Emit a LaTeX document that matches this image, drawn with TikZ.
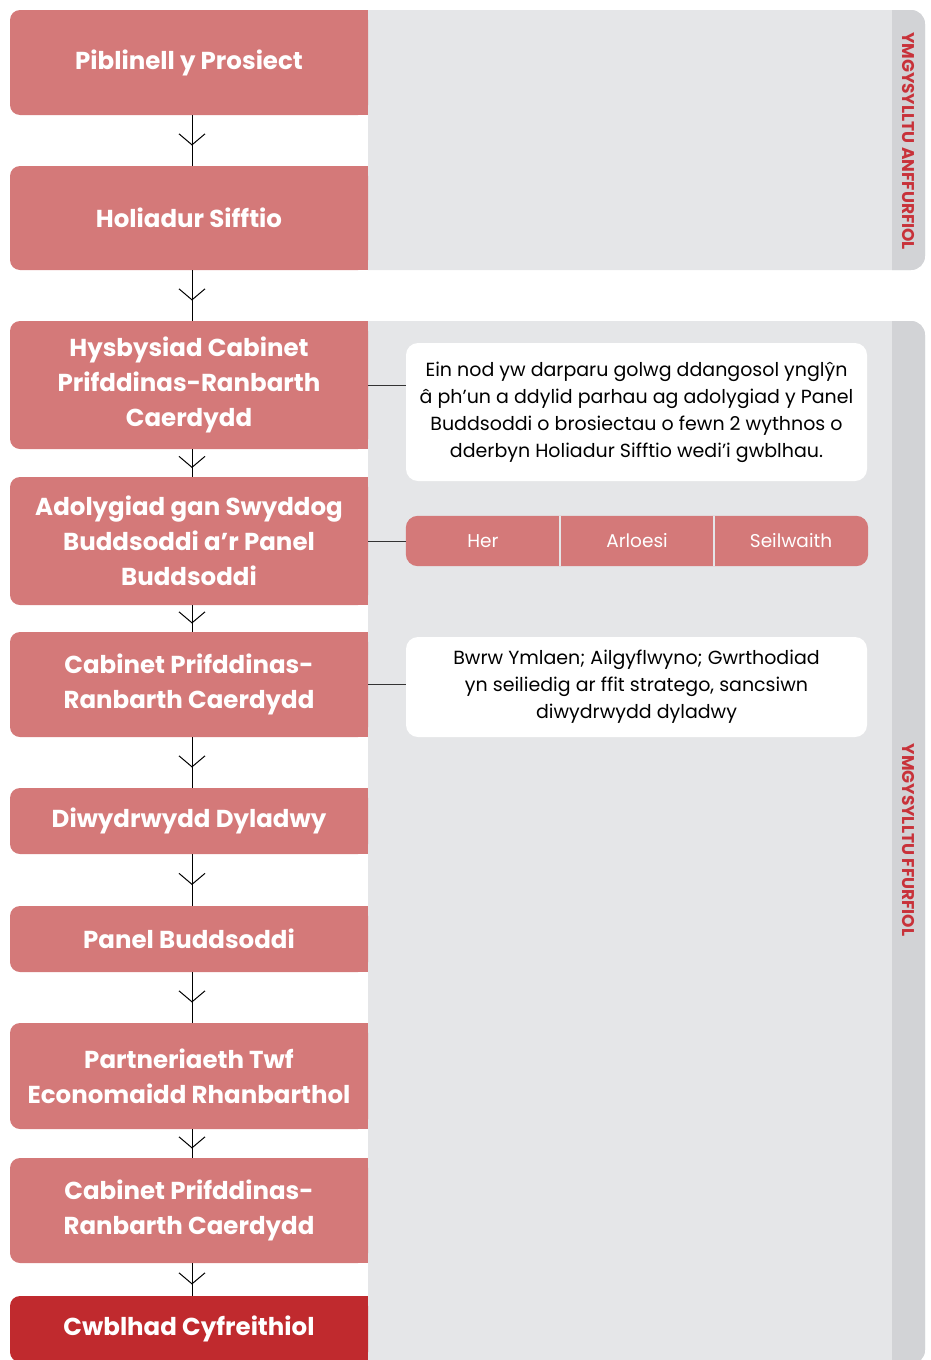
\documentclass[tikz,border=0pt]{standalone}
\usepackage{fontspec}
\setmainfont{Poppins}
\usetikzlibrary{arrows.meta,decorations.markings,backgrounds}

\definecolor{stepred}{RGB}{212,121,121}
\definecolor{finalred}{RGB}{192,42,46}
\definecolor{panelgray}{RGB}{229,230,232}
\definecolor{stripgray}{RGB}{210,211,214}
\definecolor{labelred}{RGB}{200,50,58}
\definecolor{linegray}{RGB}{51,51,51}

\tikzset{
  stepbox/.style={fill=stepred, rounded corners=10pt, minimum width=358pt, inner sep=0pt,
    text=white, align=center, font=\bfseries\fontsize{24.5}{35}\selectfont},
  notebox/.style={fill=white, rounded corners=12pt, minimum width=461pt, inner sep=0pt,
    align=center, font=\fontsize{19}{27}\selectfont},
  tagcell/.style={minimum width=154pt, minimum height=50pt, inner sep=0pt,
    text=white, font=\fontsize{18.5}{18.5}\selectfont},
  sidetext/.style={rotate=-90, text=labelred, font=\bfseries\fontsize{17}{17}\selectfont},
  flow/.style={line width=1pt, postaction={decorate},
    decoration={markings, mark=at position 0.5 with {\arrow[xshift=5pt]{Straight Barb[length=11pt,width=26pt]}}}},
  link/.style={line width=1pt, draw=linegray},
}

\begin{document}
\begin{tikzpicture}[x=1pt, y=1pt]
  \useasboundingbox (0,0) rectangle (930,-1360);

  % Les panneaux gris
  \begin{scope}[on background layer]
    \foreach \top/\bot in {10/270, 321/1364} {
      \begin{scope}
        \clip (368,-\top) rectangle (930,-\bot);
        \fill[panelgray, rounded corners=14pt] (340,-\top) rectangle (925,-\bot);
      \end{scope}
      \begin{scope}
        \clip (892,-\top) rectangle (930,-\bot);
        \fill[stripgray, rounded corners=14pt] (340,-\top) rectangle (925,-\bot);
      \end{scope}
    }
  \end{scope}

  \node (anffurfiol) [sidetext] at (908,-141) {YMGYSYLLTU ANFFURFIOL};
  \node (ffurfiol) [sidetext] at (908,-840) {YMGYSYLLTU FFURFIOL};

  % Les etapes
  \node (piblinell) [stepbox, minimum height=105pt] at (189,-62.5) {Piblinell y Prosiect};
  \node (holiadur) [stepbox, minimum height=104pt] at (189,-218) {Holiadur Sifftio};
  \node (hysbysiad) [stepbox, minimum height=128pt] at (189,-385) {Hysbysiad Cabinet\\Prifddinas-Ranbarth\\Caerdydd};
  \node (adolygiad) [stepbox, minimum height=128pt] at (189,-541) {Adolygiad gan Swyddog\\Buddsoddi a’r Panel\\Buddsoddi};
  \node (cabinet1) [stepbox, minimum height=105pt] at (189,-684.5) {Cabinet Prifddinas-\\Ranbarth Caerdydd};
  \node (diwydrwydd) [stepbox, minimum height=66pt] at (189,-821) {Diwydrwydd Dyladwy};
  \node (panel) [stepbox, minimum height=66pt] at (189,-939) {Panel Buddsoddi};
  \node (partneriaeth) [stepbox, minimum height=106pt] at (189,-1076) {Partneriaeth Twf\\Economaidd Rhanbarthol};
  \node (cabinet2) [stepbox, minimum height=105pt] at (189,-1210.5) {Cabinet Prifddinas-\\Ranbarth Caerdydd};
  \node (cwblhad) [stepbox, fill=finalred, minimum height=66pt] at (189,-1329) {Cwblhad Cyfreithiol};

  \foreach \n/\c in {piblinell/stepred, holiadur/stepred, hysbysiad/stepred, adolygiad/stepred,
      cabinet1/stepred, diwydrwydd/stepred, panel/stepred, partneriaeth/stepred,
      cabinet2/stepred, cwblhad/finalred}
    \fill[\c] ([xshift=-12pt]\n.north east) rectangle (\n.south east);

  % Les fleches
  \foreach \a/\b in {piblinell/holiadur, holiadur/hysbysiad, hysbysiad/adolygiad,
      adolygiad/cabinet1, cabinet1/diwydrwydd, diwydrwydd/panel, panel/partneriaeth,
      partneriaeth/cabinet2, cabinet2/cwblhad}
    \draw[flow] ([xshift=3pt]\a.south) -- ([xshift=3pt]\b.north);

  % Les notes
  \node (nod) [notebox, minimum height=138pt] at (636.5,-412)
    {Ein nod yw darparu golwg ddangosol ynglŷn\\â ph’un a ddylid parhau ag adolygiad y Panel\\Buddsoddi o brosiectau o fewn 2 wythnos o\\dderbyn Holiadur Sifftio wedi’i gwblhau.};

  \node (her) [tagcell] at (483,-541) {Her};
  \node (arloesi) [tagcell] at (637,-541) {Arloesi};
  \node (seilwaith) [tagcell] at (791,-541) {Seilwaith};
  \begin{scope}[on background layer]
    \fill[stepred, rounded corners=12pt] (her.north west) rectangle (seilwaith.south east);
    \draw[panelgray, line width=2pt] (her.north east) -- (her.south east);
    \draw[panelgray, line width=2pt] (arloesi.north east) -- (arloesi.south east);
  \end{scope}

  \node (penderfyniad) [notebox, minimum height=100pt] at (636.5,-687)
    {Bwrw Ymlaen; Ailgyflwyno; Gwrthodiad\\yn seiliedig ar ffit stratego, sancsiwn\\diwydrwydd dyladwy};

  % Les liens
  \draw[link] (hysbysiad.east) -- (hysbysiad.east -| nod.west);
  \draw[link] (adolygiad.east) -- (her.west);
  \draw[link] (cabinet1.east) -- (cabinet1.east -| penderfyniad.west);
\end{tikzpicture}
\end{document}
